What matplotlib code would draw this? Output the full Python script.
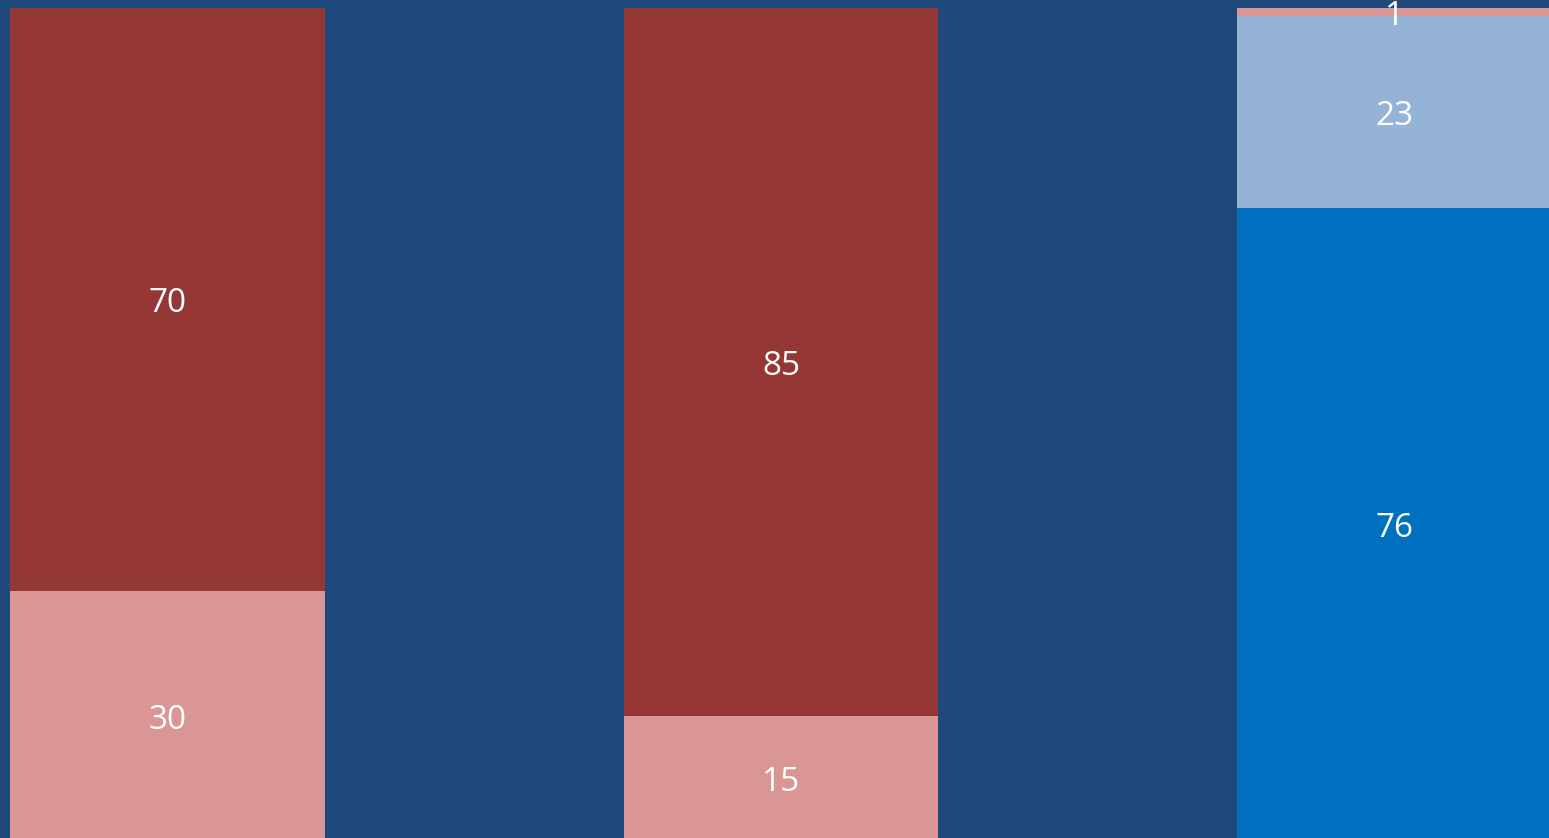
import matplotlib
matplotlib.use("Agg")
import matplotlib.pyplot as plt

categories = ["A", "B", "C"]
# series stacked bottom to top
s_light_pink = [30, 15, 0]
s_dark_red = [70, 85, 0]
s_blue = [0, 0, 76]
s_light_blue = [0, 0, 23]
s_top_pink = [0, 0, 1]

series = [
    (s_light_pink, "#D99694"),
    (s_dark_red, "#953735"),
    (s_blue, "#0070C0"),
    (s_light_blue, "#95B3D7"),
    (s_top_pink, "#D99694"),
]

bg = "#1F497D"
fig = plt.figure(figsize=(15.49, 8.38), dpi=100, facecolor=bg)
ax = fig.add_axes([0, 0, 1, 1])
ax.set_facecolor(bg)

x = list(range(len(categories)))
bottoms = [0] * len(categories)
for vals, color in series:
    ax.bar(x, vals, width=0.513, bottom=bottoms, color=color, linewidth=0)
    for xi, v, b in zip(x, vals, bottoms):
        if v > 0:
            ax.annotate(f"{v}", (xi, b + v / 2), xytext=(0, -3),
                        textcoords="offset points", ha="center", va="center",
                        color="white", fontsize=24,
                        family=["Open Sans", "DejaVu Sans"],
                        annotation_clip=False)
    bottoms = [b + v for b, v in zip(bottoms, vals)]

ax.set_xlim(-0.273, 2.2518)
ax.set_ylim(0.36, 100.96)
ax.axis("off")

fig.savefig("out.png", dpi=100, facecolor=bg)
